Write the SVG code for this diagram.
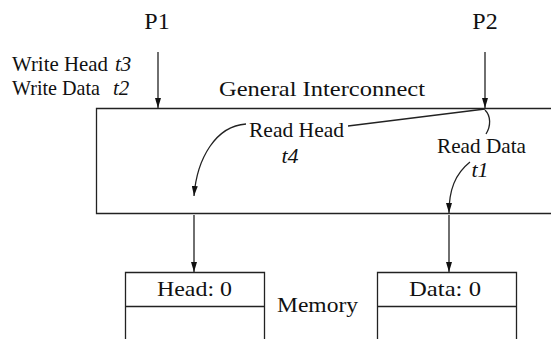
<svg xmlns="http://www.w3.org/2000/svg" width="551" height="339" viewBox="0 0 551 339">
<style>
text{font-family:"Liberation Serif","Times New Roman",serif;fill:#111;font-size:22px}
.big{font-size:24px}
.sm{font-size:21px}
.it{font-style:italic}
.ln{fill:none;stroke:#222;stroke-width:1.3}
</style>
<defs>
<marker id="ah" viewBox="0 0 10 6" refX="10" refY="3" markerWidth="10" markerHeight="6" markerUnits="userSpaceOnUse" orient="auto">
<path d="M0,0 L10,3 L0,6 z" fill="#111"/>
</marker>
</defs>
<rect width="551" height="339" fill="#fff"/>
<g id="P1"><text class="big" x="157" y="29" text-anchor="middle">P1</text></g>
<g id="P2"><text class="big" x="485" y="29" text-anchor="middle">P2</text></g>
<g id="writeLabels">
<text class="sm" x="12" y="71" textLength="96" lengthAdjust="spacingAndGlyphs">Write Head</text><text class="sm it" x="115" y="71">t3</text>
<text class="sm" x="12" y="95" textLength="88" lengthAdjust="spacingAndGlyphs">Write Data</text><text class="sm it" x="113" y="95">t2</text>
</g>
<g id="interconnect">
<path class="ln" d="M551,108.5 H96.5 V213.5 H551"/>
<text x="219" y="96" textLength="206" lengthAdjust="spacingAndGlyphs">General Interconnect</text>
<text x="249" y="137" textLength="95" lengthAdjust="spacingAndGlyphs">Read Head</text>
<text class="it" x="290" y="163" text-anchor="middle">t4</text>
<text x="437" y="153" textLength="89" lengthAdjust="spacingAndGlyphs">Read Data</text>
<text class="it" x="480" y="177" text-anchor="middle">t1</text>
</g>
<g id="memHead">
<path class="ln" d="M125.5,339 V272.5 H264.5 V339 M125.5,306.5 H264.5"/>
<text x="157" y="296" textLength="75" lengthAdjust="spacingAndGlyphs">Head: 0</text>
</g>
<g id="memData">
<path class="ln" d="M377.5,339 V272.5 H516.5 V339 M377.5,306.5 H516.5"/>
<text x="409" y="296" textLength="72" lengthAdjust="spacingAndGlyphs">Data: 0</text>
</g>
<g id="memLabel"><text x="277" y="312" textLength="81" lengthAdjust="spacingAndGlyphs">Memory</text></g>
<g id="connectors">
<path class="ln" d="M158,52 V108" marker-end="url(#ah)"/>
<path class="ln" d="M485,52 V108" marker-end="url(#ah)"/>
<path class="ln" d="M485,109 L348,126"/>
<path class="ln" d="M246,124 C216,126 197,158 194,196" marker-end="url(#ah)"/>
<path class="ln" d="M485,110 C491,116 491,126 486,134"/>
<path class="ln" d="M470,162 C455,174 449,190 449,213" marker-end="url(#ah)"/>
<path class="ln" d="M194,215 V272" marker-end="url(#ah)"/>
<path class="ln" d="M449,215 V272" marker-end="url(#ah)"/>
</g>
</svg>
